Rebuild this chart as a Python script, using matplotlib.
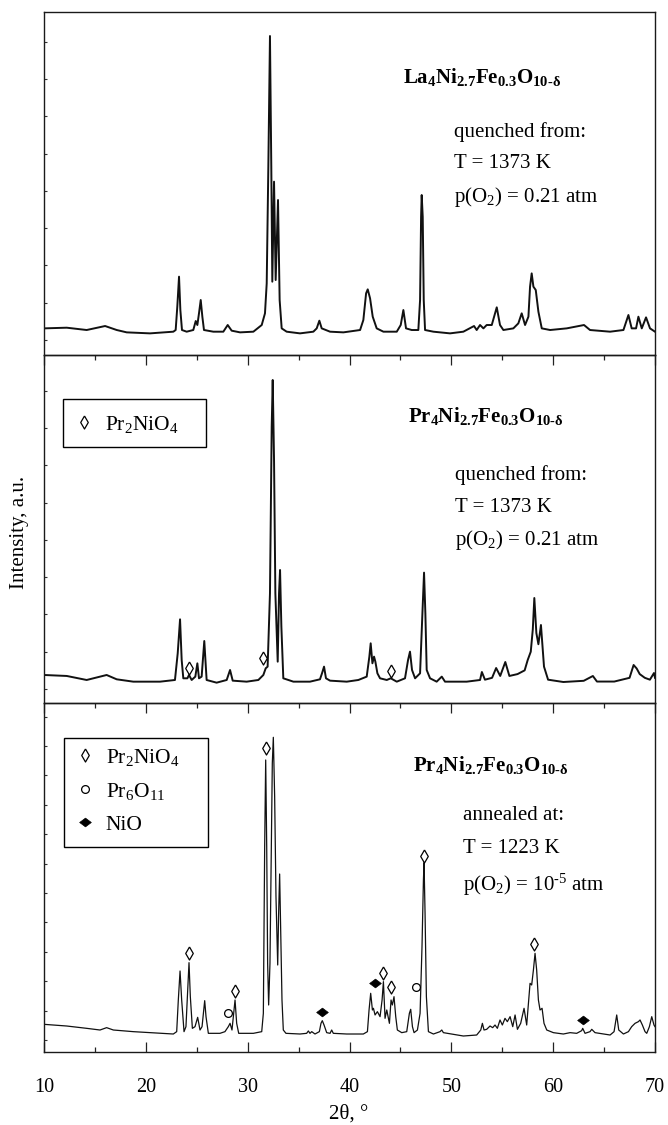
import matplotlib
matplotlib.use("Agg")
import matplotlib.pyplot as plt
from matplotlib.lines import Line2D
from matplotlib.patches import Rectangle
import numpy as np

plt.rcParams['font.family'] = ['Liberation Serif', 'DejaVu Serif']
plt.rcParams['mathtext.fontset'] = 'custom'
plt.rcParams['mathtext.rm'] = 'Liberation Serif'
plt.rcParams['mathtext.it'] = 'Liberation Serif:italic'
plt.rcParams['mathtext.bf'] = 'Liberation Serif:bold'

# ---------------- data (2theta in degrees, intensity in a.u.) ----------------
la_x = [10.0, 12.23, 14.19, 16.0, 17.14, 18.12, 20.41, 22.7, 22.93, 23.09, 23.26, 23.39, 23.55,
        24.01, 24.66, 24.9, 25.06, 25.22, 25.39, 25.55, 25.71, 26.63, 27.61, 28.04, 28.43,
        29.25, 30.56, 31.38, 31.70, 31.87, 32.03, 32.19, 32.32, 32.42, 32.59, 32.75, 32.98,
        33.14, 33.34, 33.83, 35.14, 36.45, 36.78, 37.04, 37.27, 38.09, 39.4, 41.04, 41.36,
        41.63, 41.79, 42.02, 42.28, 42.67, 43.33, 44.64, 45.03, 45.29, 45.55, 46.11, 46.76,
        46.93, 47.03, 47.09, 47.19, 47.29, 47.42, 48.24, 49.87, 51.18, 52.23, 52.49, 52.82,
        53.15, 53.47, 53.97, 54.46, 54.78, 55.11, 56.09, 56.58, 56.91, 57.24, 57.57, 57.73,
        57.89, 58.06, 58.29, 58.55, 58.88, 59.7, 61.33, 63.03, 63.62, 65.59, 66.9, 67.39,
        67.71, 68.14, 68.37, 68.7, 69.12, 69.51, 70.0]
la_y = [0.314, 0.332, 0.27, 0.377, 0.27, 0.207, 0.18, 0.225, 0.27, 0.895, 1.70, 0.806, 0.27,
        0.225, 0.27, 0.511, 0.404, 0.717, 1.074, 0.627, 0.27, 0.225, 0.225, 0.404, 0.252,
        0.207, 0.225, 0.404, 0.717, 1.521, 4.649, 8.152, 4.649, 1.566, 4.247, 1.61, 3.755,
        1.074, 0.314, 0.225, 0.18, 0.225, 0.314, 0.52, 0.314, 0.225, 0.207, 0.27, 0.538,
        1.253, 1.36, 1.119, 0.627, 0.314, 0.225, 0.225, 0.404, 0.806, 0.314, 0.27, 0.27,
        1.074, 3.308, 3.889, 3.308, 1.074, 0.27, 0.225, 0.18, 0.225, 0.377, 0.27, 0.404,
        0.314, 0.404, 0.404, 0.878, 0.404, 0.27, 0.314, 0.448, 0.717, 0.404, 0.627, 1.432,
        1.789, 1.432, 1.342, 0.761, 0.314, 0.27, 0.314, 0.404, 0.27, 0.225, 0.27, 0.672,
        0.314, 0.314, 0.627, 0.314, 0.609, 0.314, 0.225]

prq_x = [10.0, 12.23, 14.19, 16.15, 17.14, 18.77, 21.39, 22.86, 23.13, 23.36, 23.52, 23.68,
         24.08, 24.24, 24.5, 24.86, 25.06, 25.22, 25.48, 25.74, 25.97, 26.95, 27.94, 28.27,
         28.53, 29.9, 31.05, 31.54, 31.77, 31.96, 32.19, 32.36, 32.46, 32.59, 32.72, 32.95,
         33.08, 33.18, 33.31, 33.5, 34.49, 36.12, 37.1, 37.3, 37.5, 37.69, 38.09, 39.73,
         40.87, 41.69, 41.95, 42.08, 42.25, 42.41, 42.54, 42.74, 43.0, 43.66, 44.05, 44.64,
         45.45, 45.75, 45.94, 46.14, 46.44, 46.93, 47.16, 47.32, 47.45, 47.58, 47.91, 48.56,
         49.06, 49.38, 51.51, 52.82, 53.0, 53.3, 54.0, 54.4, 54.8, 55.3, 55.7, 56.5, 57.2,
         57.5, 57.8, 58.0, 58.15, 58.35, 58.55, 58.8, 59.1, 59.5, 61.0, 63.0, 63.9, 64.3,
         66.0, 67.5, 67.9, 68.2, 68.5, 69.0, 69.5, 69.9, 70.0]
prq_y = [0.376, 0.35, 0.242, 0.376, 0.26, 0.197, 0.197, 0.242, 0.957, 1.868, 0.778, 0.287,
         0.287, 0.376, 0.242, 0.332, 0.689, 0.287, 0.332, 1.287, 0.242, 0.17, 0.242, 0.51,
         0.224, 0.197, 0.242, 0.376, 0.555, 0.6, 2.565, 7.034, 8.285, 6.14, 2.565, 0.733,
         2.565, 3.191, 1.672, 0.287, 0.197, 0.197, 0.26, 0.421, 0.6, 0.287, 0.224, 0.197,
         0.242, 0.332, 0.868, 1.225, 0.689, 0.868, 0.733, 0.421, 0.287, 0.242, 0.287, 0.197,
         0.287, 0.778, 1.002, 0.51, 0.287, 0.421, 2.03, 3.12, 2.03, 0.51, 0.287, 0.197,
         0.332, 0.197, 0.197, 0.242, 0.456, 0.25, 0.3, 0.563, 0.35, 0.724, 0.35, 0.4, 0.5,
         0.778, 1.0, 1.6, 2.44, 1.5, 1.2, 1.716, 0.6, 0.25, 0.188, 0.22, 0.349, 0.2,
         0.2, 0.3, 0.644, 0.55, 0.4, 0.3, 0.25, 0.429, 0.3]

pra_x = [10.0, 12.23, 14.19, 15.5, 16.15, 16.81, 18.77, 20.41, 22.7, 23.03, 23.19, 23.36,
         23.52, 23.75, 23.94, 24.11, 24.24, 24.37, 24.57, 24.83, 25.09, 25.32, 25.52, 25.65,
         25.78, 25.91, 26.14, 27.28, 27.77, 28.1, 28.27, 28.46, 28.63, 28.76, 28.92, 29.12,
         30.56, 31.38, 31.54, 31.67, 31.77, 31.87, 31.96, 32.06, 32.19, 32.32, 32.42, 32.52,
         32.65, 32.78, 32.95, 33.04, 33.14, 33.24, 33.37, 33.5, 33.76, 35.14, 35.79, 35.96,
         36.12, 36.29, 36.61, 37.04, 37.2, 37.33, 37.5, 37.76, 38.09, 38.25, 38.41, 39.73,
         41.36, 41.76, 41.92, 42.08, 42.25, 42.35, 42.51, 42.74, 43.0, 43.2, 43.33, 43.49,
         43.66, 43.82, 43.92, 44.08, 44.21, 44.37, 44.54, 44.7, 45.13, 45.62, 45.88, 46.01,
         46.18, 46.34, 46.67, 46.93, 47.12, 47.26, 47.32, 47.42, 47.55, 47.75, 48.24, 48.89,
         49.06, 49.22, 51.18, 52.49, 52.89, 53.05, 53.21, 53.47, 53.8, 54.06, 54.29, 54.52,
         54.78, 55.01, 55.27, 55.5, 55.77, 56.03, 56.26, 56.49, 56.81, 57.14, 57.4, 57.6,
         57.73, 57.89, 58.06, 58.22, 58.38, 58.55, 58.71, 58.91, 59.1, 59.37, 60.02, 61.0,
         61.66, 62.31, 62.8, 62.9, 63.13, 63.62, 63.79, 64.11, 65.59, 65.98, 66.24, 66.44,
         66.9, 67.39, 67.71, 68.04, 68.37, 68.53, 68.76, 69.02, 69.19, 69.45, 69.68, 69.9,
         70.0]
pra_y = [0.531, 0.474, 0.395, 0.338, 0.418, 0.338, 0.282, 0.248, 0.202, 0.282, 1.359, 2.345,
         1.359, 0.282, 0.452, 1.699, 2.629, 1.472, 0.395, 0.452, 0.769, 0.338, 0.452, 0.905,
         1.336, 0.792, 0.225, 0.225, 0.282, 0.452, 0.565, 0.338, 0.905, 1.359, 0.565, 0.225,
         0.225, 0.282, 0.905, 6.574, 9.522, 6.574, 2.606, 1.189, 2.606, 6.574, 9.409, 10.293,
         8.275, 4.873, 2.549, 4.306, 5.644, 3.74, 1.359, 0.338, 0.225, 0.202, 0.225, 0.305,
         0.225, 0.282, 0.202, 0.282, 0.565, 0.656, 0.508, 0.248, 0.225, 0.338, 0.225, 0.202,
         0.202, 0.282, 1.019, 1.586, 1.019, 1.076, 0.849, 0.962, 0.792, 1.359, 1.983, 0.735,
         1.019, 0.735, 0.565, 1.359, 1.189, 1.472, 0.792, 0.338, 0.248, 0.282, 0.905, 1.042,
         0.452, 0.248, 0.338, 0.905, 3.173, 5.44, 6.03, 4.306, 1.472, 0.282, 0.202, 0.282,
         0.338, 0.248, 0.134, 0.168, 0.338, 0.565, 0.338, 0.361, 0.474, 0.418, 0.508, 0.395,
         0.679, 0.508, 0.735, 0.622, 0.792, 0.452, 0.849, 0.361, 0.565, 1.076, 0.508, 1.359,
         1.926, 1.869, 2.379, 2.946, 2.379, 1.359, 1.019, 1.076, 0.565, 0.338, 0.248, 0.202,
         0.248, 0.225, 0.316, 0.395, 0.225, 0.282, 0.361, 0.248, 0.168, 0.282, 0.849, 0.338,
         0.202, 0.282, 0.452, 0.565, 0.622, 0.679, 0.508, 0.282, 0.225, 0.452, 0.792, 0.508,
         0.452]

# phase markers
prq_pr2nio4_x = [24.24, 31.54, 44.05]
prq_pr2nio4_y = [0.555, 0.823, 0.483]
pra_pr2nio4_x = [24.24, 28.76, 31.77, 43.33, 44.08, 47.32, 58.12]
pra_pr2nio4_y = [2.97, 1.676, 9.92, 2.29, 1.79, 6.27, 3.26]
pra_pr6o11_x = [28.04, 46.5]
pra_pr6o11_y = [0.905, 1.81]
pra_nio_x = [37.33, 42.51, 62.9]
pra_nio_y = [0.96, 1.926, 0.679]

x_ticks = [10, 20, 30, 40, 50, 60, 70]

# ---------------- figure ----------------
W, H = 668, 1125
fig = plt.figure(figsize=(W / 100, H / 100), dpi=100)

def fx(px):
    return px / W

def fy(py):
    return 1 - py / H

left, right = 44, 655
panels = [(12, 355), (355, 703), (703, 1052)]
ylims = [(-0.40, 8.796), (-0.375, 8.955), (-0.41, 11.46)]
nyt = [9, 9, 12]

axes = []
for (t, b), yl, n in zip(panels, ylims, nyt):
    ax = fig.add_axes([fx(left), fy(b), fx(right) - fx(left), fy(t) - fy(b)])
    ax.set_xlim(10, 70)
    ax.set_ylim(*yl)
    ax.set_yticks(np.arange(n))
    ax.set_yticklabels([])
    ax.set_xticks(x_ticks)
    ax.set_xticks(np.arange(15, 70, 10), minor=True)
    for s in ax.spines.values():
        s.set_linewidth(1.0)
        s.set_color('#1a1a1a')
    ax.tick_params(axis='y', which='major', direction='in', length=2.4, width=0.8,
                   left=True, right=False, color='#333333')
    ax.patch.set_visible(False)
    axes.append(ax)

ax_la, ax_q, ax_a = axes
ax_la.tick_params(axis='x', which='both', bottom=False, top=False, labelbottom=False)
for ax in (ax_q, ax_a):
    ax.tick_params(axis='x', which='major', top=True, bottom=False, direction='in',
                   length=7.2, width=0.9, labelbottom=False, labeltop=False, color='#222222')
    ax.tick_params(axis='x', which='minor', top=True, bottom=False, direction='in',
                   length=3.6, width=0.9, color='#222222')
ax_a.tick_params(axis='x', which='major', bottom=True, direction='in', length=7.2, width=0.9,
                 labelbottom=True, labelsize=14.5, pad=19)
ax_a.tick_params(axis='x', which='minor', bottom=True, direction='in', length=3.6, width=0.9)

ax_la.plot(la_x, la_y, color='#111111', lw=1.4)
ax_q.plot(prq_x, prq_y, color='#111111', lw=1.4)
ax_a.plot(pra_x, pra_y, color='#111111', lw=0.9)

open_diamond = [(0, 1), (0.58, 0), (0, -1), (-0.58, 0), (0, 1)]
flat_diamond = [(-1, 0), (0, 0.75), (1, 0), (0, -0.75), (-1, 0)]

mk_d = dict(marker=open_diamond, ms=9.4, mfc='white', mec='black', mew=0.9, ls='none')
mk_o = dict(marker='o', ms=5.6, mfc='white', mec='black', mew=0.9, ls='none')
mk_n = dict(marker=flat_diamond, ms=8.4, mfc='black', mec='black', mew=0.5, ls='none')

ax_q.plot(prq_pr2nio4_x, prq_pr2nio4_y, **mk_d)
ax_a.plot(pra_pr2nio4_x, pra_pr2nio4_y, **mk_d)
ax_a.plot(pra_pr6o11_x, pra_pr6o11_y, **mk_o)
ax_a.plot(pra_nio_x, pra_nio_y, **mk_n)

# legends (frameless) with a drawn box matching the reference
def box(ax, x0, y0, x1, y1, top_px, bottom_px):
    h = bottom_px - top_px
    r = Rectangle(((x0 - left) / (right - left), (bottom_px - y1) / h),
                  (x1 - x0) / (right - left), (y1 - y0) / h,
                  transform=ax.transAxes, fill=False, edgecolor='black', lw=1.0, zorder=5)
    ax.add_patch(r)

leg_kw = dict(loc='upper left', borderaxespad=0, borderpad=0, fontsize=15.5, frameon=False,
              handlelength=1.0, handletextpad=0.47, labelspacing=0.6)
h_d = Line2D([], [], **mk_d)
h_o = Line2D([], [], **mk_o)
h_n = Line2D([], [], **mk_n)
ax_q.legend([h_d], [r'Pr$_2$NiO$_4$'],
            bbox_to_anchor=((73 - left) / (right - left), (703 - 414) / 348), **leg_kw)
box(ax_q, 63, 399, 206, 447, 355, 703)
ax_a.legend([h_d, h_o, h_n], [r'Pr$_2$NiO$_4$', r'Pr$_6$O$_{11}$', 'NiO'],
            bbox_to_anchor=((74 - left) / (right - left), (1052 - 747) / 349), **leg_kw)
box(ax_a, 64, 738, 208, 847, 703, 1052)

fs = 15
fig.text(fx(403), fy(83), r'$\mathbf{La_4Ni_{2.7}Fe_{0.3}O_{10\text{-}δ}}$', fontsize=fs,
         ha='left', va='baseline')
fig.text(fx(454), fy(137), 'quenched from:', fontsize=fs, ha='left', va='baseline')
fig.text(fx(454), fy(168), 'T = 1373 K', fontsize=fs, ha='left', va='baseline')
fig.text(fx(454), fy(202), r'p(O$_2$) = 0.21 atm', fontsize=fs, ha='left', va='baseline')

fig.text(fx(408), fy(422), r'$\mathbf{Pr_4Ni_{2.7}Fe_{0.3}O_{10\text{-}δ}}$', fontsize=fs,
         ha='left', va='baseline')
fig.text(fx(455), fy(480), 'quenched from:', fontsize=fs, ha='left', va='baseline')
fig.text(fx(455), fy(512), 'T = 1373 K', fontsize=fs, ha='left', va='baseline')
fig.text(fx(455), fy(545), r'p(O$_2$) = 0.21 atm', fontsize=fs, ha='left', va='baseline')

fig.text(fx(413), fy(771), r'$\mathbf{Pr_4Ni_{2.7}Fe_{0.3}O_{10\text{-}δ}}$', fontsize=fs,
         ha='left', va='baseline')
fig.text(fx(463), fy(820), 'annealed at:', fontsize=fs, ha='left', va='baseline')
fig.text(fx(463), fy(853), 'T = 1223 K', fontsize=fs, ha='left', va='baseline')
fig.text(fx(463), fy(891), r'p(O$_2$) = 10$^{\text{-}5}$ atm', fontsize=fs, ha='left',
         va='baseline')

fig.text(fx(20), fy(532), 'Intensity, a.u.', fontsize=15, rotation=90, ha='center',
         va='center')
fig.text(fx(349), fy(1114), '2θ, °', fontsize=15, ha='center', va='center')

fig.savefig('out.png', dpi=100)
